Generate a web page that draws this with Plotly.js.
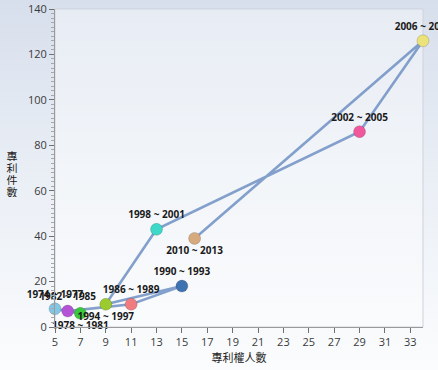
<!DOCTYPE html>
<html>
<head>
<meta charset="utf-8">
<script src="https://cdn.plot.ly/plotly-3.0.1.min.js"></script>
<style>
  html, body { margin: 0; padding: 0; }
  body { width: 438px; height: 370px; background: linear-gradient(to bottom, #d7dfec 0%, #e9eef5 45%, #fbfcfd 100%); }
  #chart { width: 438px; height: 370px; }
</style>
</head>
<body>
<div id="chart"></div>
<script>
// ---- data ----
const periods = ["1974 ~ 1977", "1978 ~ 1981", "1982 ~ 1985", "1986 ~ 1989", "1990 ~ 1993",
                 "1994 ~ 1997", "1998 ~ 2001", "2002 ~ 2005", "2006 ~ 2009", "2010 ~ 2013"];
const holders = [5, 7, 6, 11, 15, 9, 13, 29, 34, 16];      // 專利權人數
const patents = [8, 6, 7, 10, 18, 10, 43, 86, 126, 39];    // 專利件數
const xTitle = "專利權人數";
const yTitle = "專利件數";

// ---- style ----
const markerColors = ["#82c6e6", "#3cc83c", "#b553d6", "#f07c80", "#3f72b0",
                      "#9ccb30", "#3ed8c8", "#f0579c", "#ece27a", "#d6aa7c"];
const labelPos = ["top center", "bottom center", "top center", "top center", "top center",
                  "bottom center", "top center", "top center", "top center", "bottom center"];

const lineTrace = {
  x: holders, y: patents, mode: "lines", type: "scatter",
  line: { color: "rgba(110,145,195,0.85)", width: 2.6 },
  hoverinfo: "skip", cliponaxis: false
};
const pointTrace = {
  x: holders, y: patents, mode: "markers+text", type: "scatter",
  text: periods, textposition: labelPos,
  textfont: { family: "Open Sans, DejaVu Sans, sans-serif", size: 10, color: "#1a1a1a", weight: "bold" },
  marker: { size: 12, color: markerColors, line: { width: 0.6, color: "rgba(0,0,0,0.25)" } },
  cliponaxis: false
};

const tickFont = { family: "Open Sans, Liberation Sans, sans-serif", size: 11, color: "#3a3a3a" };
const cjk = "Noto Sans CJK TC, Noto Sans CJK SC, sans-serif";

const L = 55, T = 9, R = 15, B = 43, H = 370;
const plotH = H - T - B;
function py(p) { return (H - B - p) / plotH; }

const yChars = Array.from(yTitle);
const yAnn = yChars.map((c, i) => ({
  text: c, xref: "paper", yref: "paper", x: -43 / 368, y: py(155 + i * 12),
  xanchor: "center", yanchor: "middle", showarrow: false, height: 11, width: 12,
  font: { family: cjk, size: 11, color: "#222" }
}));

const layout = {
  width: 438, height: 370,
  margin: { l: L, r: R, t: T, b: B, pad: 0 },
  paper_bgcolor: "rgba(0,0,0,0)",
  plot_bgcolor: "rgba(255,255,255,0.4)",
  showlegend: false,
  xaxis: {
    range: [5, 34], tick0: 5, dtick: 2, ticks: "outside", ticklen: 5, tickcolor: "#707070",
    showgrid: false, zeroline: false, showline: true, linecolor: "#9a9a9a", linewidth: 1,
    tickfont: tickFont, fixedrange: true,
    title: { text: xTitle, font: { family: cjk, size: 11, color: "#222" }, standoff: 4 }
  },
  yaxis: {
    range: [0, 140], tick0: 0, dtick: 20, ticks: "outside", ticklen: 5, tickcolor: "#707070",
    minor: { dtick: 2, ticks: "outside", ticklen: 3, tickcolor: "#a8a8a8", showgrid: false },
    showgrid: false, zeroline: false, showline: true, linecolor: "#9a9a9a", linewidth: 1,
    tickfont: tickFont, fixedrange: true
  },
  shapes: [{
    type: "rect", xref: "paper", yref: "paper", x0: 0, x1: 1, y0: 0, y1: 1,
    line: { color: "#cdd3dc", width: 1 }, layer: "below"
  }],
  annotations: yAnn
};

Plotly.newPlot("chart", [lineTrace, pointTrace], layout, { displayModeBar: false, staticPlot: true });
</script>
</body>
</html>
